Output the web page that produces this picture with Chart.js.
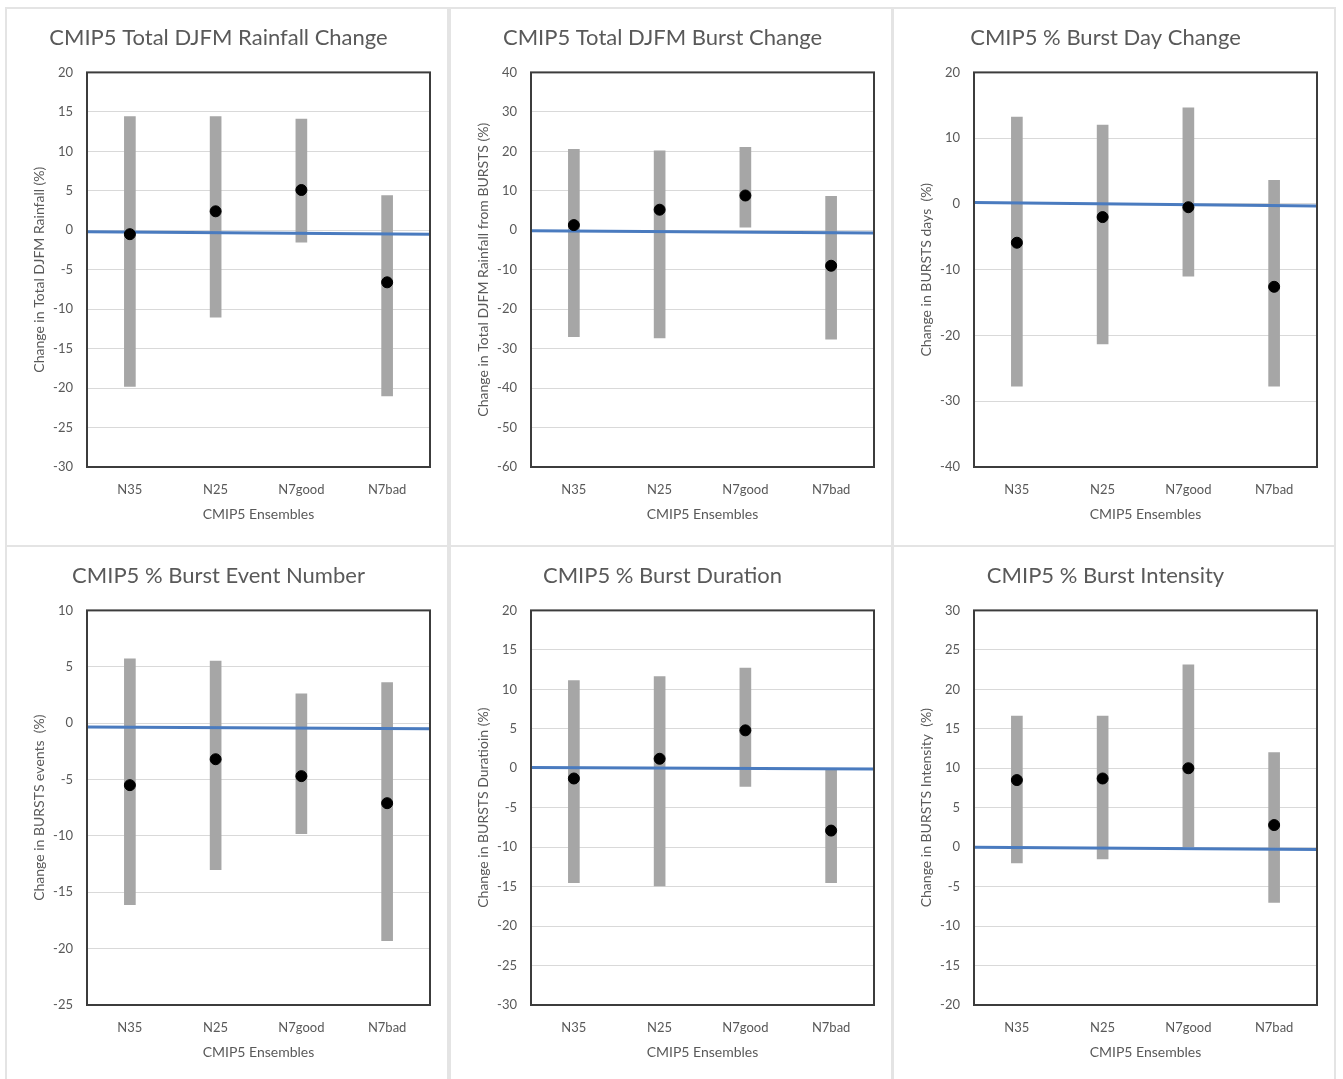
<!DOCTYPE html>
<html>
<head>
<meta charset="utf-8">
<script src="https://cdn.jsdelivr.net/npm/chart.js@4.4.1/dist/chart.umd.min.js"></script>
<style>
  body { margin: 0; background: #fff; overflow: hidden; width: 1343px; height: 1079px; position: relative; }
  .card { position: absolute; box-sizing: border-box; width: 444px; height: 540px; border: 2px solid #e4e4e4; background: #fff; }
  .card canvas { display: block; }
</style>
</head>
<body>
<script>
// categories shared by all six panels
const categories = ['N35', 'N25', 'N7good', 'N7bad'];

const titles = [
  'CMIP5 Total DJFM Rainfall Change',
  'CMIP5 Total DJFM Burst Change',
  'CMIP5 % Burst Day Change',
  'CMIP5 % Burst Event Number',
  'CMIP5 % Burst Duration',
  'CMIP5 % Burst Intensity'
];
const yTitles = [
  'Change in Total DJFM Rainfall (%)',
  'Change in Total DJFM Rainfall from BURSTS (%)',
  'Change in BURSTS days  (%)',
  'Change in BURSTS events  (%)',
  'Change in BURSTS Duratioin (%)',
  'Change in BURSTS Intensity  (%)'
];
const xTitle = 'CMIP5 Ensembles';

// axis ranges
const yMax  = [20, 40, 20, 10, 20, 30];
const yMin  = [-30, -60, -40, -25, -30, -20];
const yStep = [5, 10, 10, 5, 5, 5];

// ensemble ranges (low / high) and means
const rainLow   = [-19.8, -11, -1.5, -21];
const rainHigh  = [14.4, 14.4, 14.1, 4.4];
const rainMean  = [-0.5, 2.4, 5.1, -6.6];

const burstLow  = [-27, -27.3, 0.8, -27.6];
const burstHigh = [20.5, 20.1, 21, 8.6];
const burstMean = [1.3, 5.2, 8.8, -9];

const dayLow    = [-27.7, -21.3, -11, -27.7];
const dayHigh   = [13.2, 12, 14.6, 3.6];
const dayMean   = [-5.9, -2, -0.5, -12.6];

const eventLow  = [-16.1, -13, -9.8, -19.3];
const eventHigh = [5.7, 5.5, 2.6, 3.6];
const eventMean = [-5.5, -3.2, -4.7, -7.1];

const durLow    = [-14.5, -14.9, -2.3, -14.5];
const durHigh   = [11.1, 11.6, 12.7, -0.2];
const durMean   = [-1.3, 1.2, 4.8, -7.9];

const intLow    = [-2, -1.5, 0, -7];
const intHigh   = [16.6, 16.6, 23.1, 12];
const intMean   = [8.5, 8.7, 10, 2.8];

// blue reference line, value at left and right edge of plot
const refLine = [[-0.2, -0.5], [-0.1, -0.7], [0.2, -0.3], [-0.35, -0.5], [0.1, -0.1], [0, -0.3]];

const lows  = [rainLow, burstLow, dayLow, eventLow, durLow, intLow];
const highs = [rainHigh, burstHigh, dayHigh, eventHigh, durHigh, intHigh];
const means = [rainMean, burstMean, dayMean, eventMean, durMean, intMean];

const textColor = '#595959';
const fontFamily = 'Lato, "Open Sans", sans-serif';

// draws the dark frame round the plot area
const frame = {
  id: 'frame',
  afterDraw(chart) {
    const { ctx, chartArea: a } = chart;
    ctx.save();
    ctx.strokeStyle = '#3c3c3c';
    ctx.lineWidth = 2;
    ctx.strokeRect(a.left, a.top, a.right - a.left, a.bottom - a.top);
    ctx.restore();
  }
};

for (let p = 0; p < 6; p++) {
  const col = p % 3, row = Math.floor(p / 3);
  const card = document.createElement('div');
  card.className = 'card';
  card.style.left = (5 + col * 443.5) + 'px';
  card.style.top = (7 + row * 538) + 'px';
  const canvas = document.createElement('canvas');
  canvas.width = 440;
  canvas.height = 536;
  card.appendChild(canvas);
  document.body.appendChild(card);

  new Chart(canvas, {
    data: {
      datasets: [
        {
          type: 'line',
          data: means[p].map((m, i) => ({ x: i + 1, y: m })),
          showLine: false,
          pointRadius: 5.5,
          pointBackgroundColor: '#000',
          pointBorderColor: '#000',
          order: 1
        },
        {
          type: 'line',
          data: [{ x: 0.5, y: refLine[p][0] }, { x: 4.5, y: refLine[p][1] }],
          borderColor: '#4a7bbf',
          borderWidth: 3,
          pointRadius: 0,
          order: 2
        },
        {
          type: 'bar',
          data: categories.map((c, i) => ({ x: i + 1, y: [lows[p][i], highs[p][i]] })),
          backgroundColor: '#a6a6a6',
          barThickness: 11,
          order: 3
        }
      ]
    },
    options: {
      responsive: false,
      animation: false,
      devicePixelRatio: 1,
      layout: { padding: { left: 0, right: 17, top: 0, bottom: 0 } },
      plugins: {
        legend: { display: false },
        tooltip: { enabled: false },
        title: {
          display: true,
          text: titles[p],
          color: textColor,
          font: { family: fontFamily, size: 22, weight: 'normal', lineHeight: 1.2 },
          padding: { top: 16, bottom: 21 }
        }
      },
      scales: {
        x: {
          type: 'linear',
          min: 0.5,
          max: 4.5,
          offset: false,
          afterBuildTicks: (scale) => { scale.ticks = categories.map((c, i) => ({ value: i + 1 })); },
          afterFit: (scale) => { scale.height = 78; },
          grid: { display: false },
          border: { display: false },
          ticks: {
            color: textColor,
            font: { family: fontFamily, size: 13 },
            padding: 7,
            maxRotation: 0,
            callback: (v) => categories[v - 1]
          },
          title: {
            display: true,
            text: xTitle,
            color: textColor,
            font: { family: fontFamily, size: 14 },
            padding: { top: 0, bottom: 22 }
          }
        },
        y: {
          min: yMin[p],
          max: yMax[p],
          afterFit: (scale) => { scale.width = 80; },
          grid: { color: '#d9d9d9', drawTicks: false },
          border: { display: false },
          ticks: {
            stepSize: yStep[p],
            color: textColor,
            font: { family: fontFamily, size: 13 },
            padding: 14
          },
          title: {
            display: true,
            text: yTitles[p],
            color: textColor,
            font: { family: fontFamily, size: 14 },
            padding: { top: 24.5, bottom: 0 }
          }
        }
      }
    },
    plugins: [frame]
  });
}
</script>
</body>
</html>
